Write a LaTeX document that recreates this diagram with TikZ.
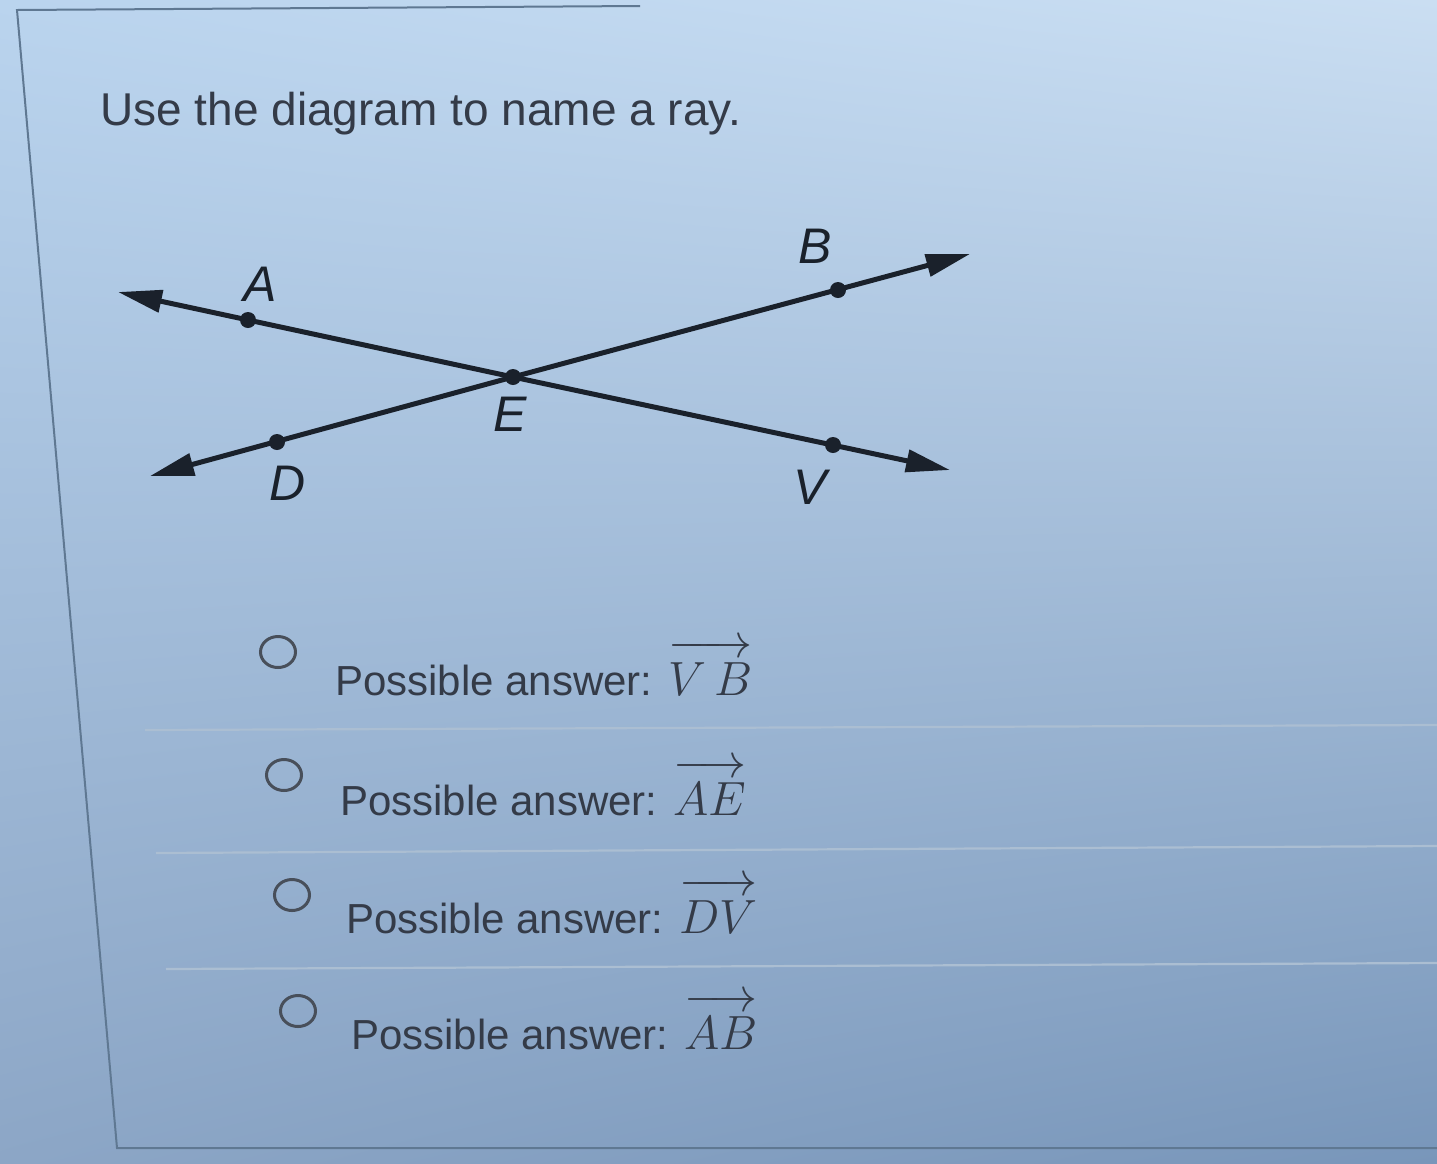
\documentclass[tikz,border=0pt]{standalone}
\usepackage{fix-cm}
\usepackage[no-math]{fontspec}
\setmainfont{Liberation Sans}
\usetikzlibrary{arrows.meta,shapes.geometric,shadings}
\definecolor{txt}{HTML}{343B48}
\definecolor{ink}{HTML}{1A212B}
\definecolor{rule}{HTML}{ABBED2}
\definecolor{frame}{HTML}{5F7892}
\definecolor{bgUL}{RGB}{186,212,238}
\definecolor{bgUR}{RGB}{202,222,242}
\definecolor{bgLL}{RGB}{140,166,198}
\definecolor{bgLR}{RGB}{120,150,186}
\newcommand{\rayname}[1]{{\fontsize{48}{56}\selectfont$\overrightarrow{\rule{0pt}{0.8em}#1}$}}
\tikzset{
  ray/.style={ink, line width=5pt, -{Triangle[length=44pt,width=22pt]}},
  pt/.style={circle, fill=ink, inner sep=0pt, minimum size=16pt},
  lbl/.style={ink, font=\fontsize{50}{56}\selectfont\itshape},
  title/.style={txt, anchor=base west, inner sep=0pt, font=\fontsize{46}{54}\selectfont},
  answer/.style={txt, anchor=base west, inner sep=0pt, font=\fontsize{42}{50}\selectfont},
  radio/.style={draw=txt!90, line width=3pt, ellipse, minimum width=35pt, minimum height=31pt, inner sep=0pt},
  sep/.style={rule, line width=2.2pt},
  edge/.style={frame, line width=2pt}
}
\begin{document}
\begin{tikzpicture}[x=1pt,y=-1pt]
\useasboundingbox (0,0) rectangle (1437,1163);
\shade[upper left=bgUL, upper right=bgUR, lower left=bgLL, lower right=bgLR]
  (0,0) rectangle (1437,1163);
% card frame
\coordinate (fTL) at (17,10);
\coordinate (fTR) at (640,6);
\coordinate (fBL) at (117,1148);
\coordinate (fBR) at (1437,1148);
\draw[edge] (fTR) -- (fTL) -- (fBL) -- (fBR);
% title
\node[title] (q) at (100,125) {Use the diagram to name a ray.};
% diagram
\coordinate (L1) at (118,292);
\coordinate (R1) at (950,470);
\coordinate (L2) at (150,476);
\coordinate (R2) at (970,254);
\node[pt] (A) at (248,320) {};
\node[pt] (E) at (513,377) {};
\node[pt] (V) at (833,445) {};
\node[pt] (D) at (277,442) {};
\node[pt] (B) at (838,290) {};
\draw[ray] (E.center) -- (L1);
\draw[ray] (E.center) -- (R1);
\draw[ray] (E.center) -- (L2);
\draw[ray] (E.center) -- (R2);
\node[lbl] (lA) at (260,284) {A};
\node[lbl] (lB) at (815,246) {B};
\node[lbl] (lE) at (510,414) {E};
\node[lbl] (lD) at (288,483) {D};
\node[lbl] (lV) at (810,487) {V};
% answers
\node[radio] (r1) at (278,652) {};
\node[radio] (r2) at (284,775) {};
\node[radio] (r3) at (292,895) {};
\node[radio] (r4) at (298,1011) {};
\node[answer] (a1) at (335,695) {Possible answer: \rayname{V\,B}};
\node[answer] (a2) at (340,815) {Possible answer: \rayname{AE}};
\node[answer] (a3) at (346,933) {Possible answer: \rayname{DV}};
\node[answer] (a4) at (351,1049) {Possible answer: \rayname{AB}};
% separators
\coordinate (s1a) at (145,730); \coordinate (s1b) at (1437,725);
\coordinate (s2a) at (156,853); \coordinate (s2b) at (1437,846);
\coordinate (s3a) at (166,969); \coordinate (s3b) at (1437,963);
\draw[sep] (s1a) -- (s1b);
\draw[sep] (s2a) -- (s2b);
\draw[sep] (s3a) -- (s3b);
\end{tikzpicture}
\end{document}
